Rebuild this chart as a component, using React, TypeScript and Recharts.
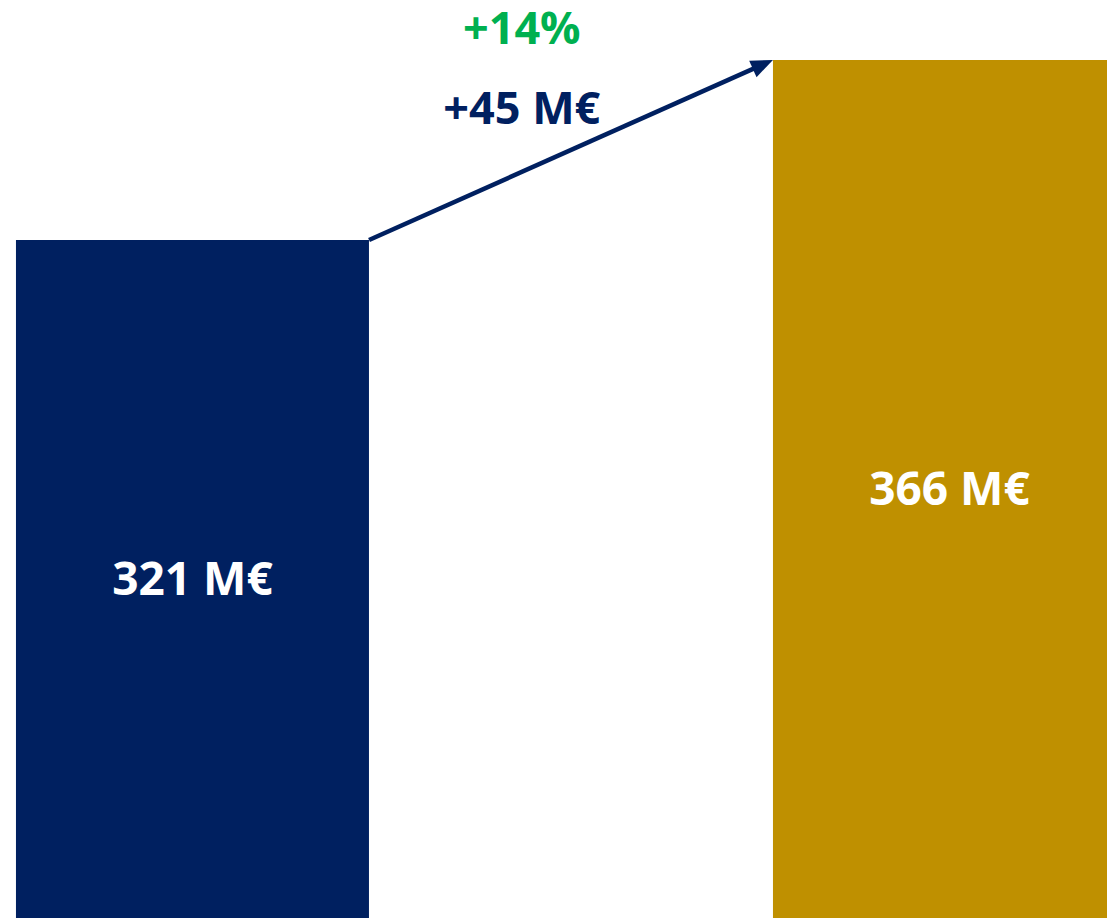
import React from 'react';
import { BarChart, Bar, XAxis, YAxis, LabelList, ReferenceLine, Cell } from 'recharts';

const categories = ['Période 1', 'Période 2'];
const values = [321, 366];
const valueLabels = ['321 M€', '366 M€'];
const barColors = ['#002060', '#BF9000'];
const deltaLabels = ['+14%', '+45 M€'];
const deltaColors = ['#00B050', '#002060'];
const deltaValuesY = [370, 350]; // baseline of each delta text, in data units
const yDomain = [151.5, 381];

const GAP = 0.2668; // barCategoryGap as a fraction of the band
const TEXT_FRAC = 0.435; // horizontal position of the delta texts between the two band centres

const data = categories.map((c, i) => ({ name: c, value: values[i], label: valueLabels[i] }));

const FONT = '"Open Sans", "DejaVu Sans", sans-serif';

const Arrow = (p: any) => {
  const { x1, y1, x2, y2 } = p;
  const band = x2 - x1;
  const half = (0.5 - GAP) * band;
  const sx = x1 + half;
  const sy = y1;
  const ex = x2 - half;
  const ey = y2;
  const dx = ex - sx;
  const dy = ey - sy;
  const len = Math.sqrt(dx * dx + dy * dy);
  const ux = dx / len;
  const uy = dy / len;
  const headLen = 22;
  const headW = 9;
  const bx = ex - ux * headLen;
  const by = ey - uy * headLen;
  const px = -uy;
  const py = ux;
  const ppu = (y1 - y2) / (values[1] - values[0]);
  const tx = x1 + TEXT_FRAC * band;
  return (
    <g>
      <line x1={sx} y1={sy} x2={bx + ux * 2} y2={by + uy * 2} stroke="#002060" strokeWidth={4.5} />
      <polygon
        points={`${ex},${ey} ${bx + px * headW},${by + py * headW} ${bx - px * headW},${by - py * headW}`}
        fill="#002060"
      />
      {deltaLabels.map((t, i) => (
        <text
          key={t}
          x={tx}
          y={y2 + (values[1] - deltaValuesY[i]) * ppu}
          textAnchor="middle"
          fill={deltaColors[i]}
          style={{ fontFamily: FONT, fontWeight: 700, fontSize: 45 }}
        >
          {t}
        </text>
      ))}
    </g>
  );
};

export default function App() {
  return (
    <div style={{ position: 'absolute', left: 0, top: 0, width: 1107, height: 918, overflow: 'hidden', background: '#fff' }}>
      <div style={{ marginLeft: -186 }}>
        <BarChart
          width={1514}
          height={918}
          data={data}
          margin={{ top: 0, right: 0, bottom: 0, left: 0 }}
          barCategoryGap={`${GAP * 100}%`}
        >
          <XAxis dataKey="name" hide />
          <YAxis hide domain={yDomain} allowDataOverflow />
          <Bar dataKey="value" isAnimationActive={false}>
            {data.map((d, i) => (
              <Cell key={d.name} fill={barColors[i]} />
            ))}
            <LabelList
              dataKey="label"
              position="center"
              fill="#ffffff"
              style={{ fontFamily: FONT, fontWeight: 700, fontSize: 46 }}
            />
          </Bar>
          <ReferenceLine
            segment={[
              { x: categories[0], y: values[0] },
              { x: categories[1], y: values[1] },
            ]}
            ifOverflow="visible"
            shape={Arrow}
          />
        </BarChart>
      </div>
    </div>
  );
}
